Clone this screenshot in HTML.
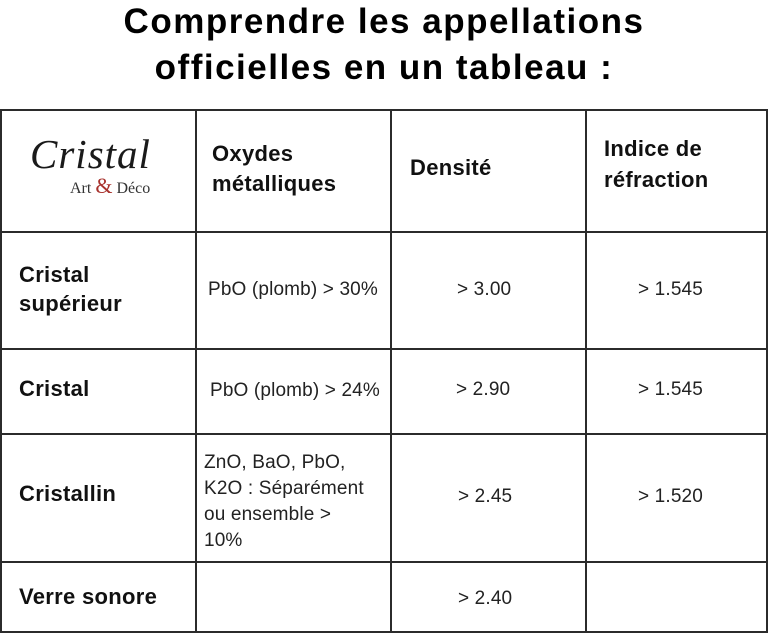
<!DOCTYPE html>
<html><head><meta charset="utf-8"><style>
html,body{margin:0;padding:0;background:#fff;}
body{width:768px;height:634px;position:relative;overflow:hidden;font-family:"Liberation Sans",sans-serif;color:#222;}
.t{position:absolute;white-space:nowrap;}
.title{left:0;width:768px;text-align:center;font-weight:bold;font-size:35px;line-height:46px;color:#000;letter-spacing:1.5px;}
.h{font-weight:bold;font-size:22px;line-height:30px;color:#111;letter-spacing:0.3px;}
.b{font-size:19px;line-height:26px;color:#222;letter-spacing:0.15px;}
.v{position:absolute;width:2px;background:#2b2b2b;top:109px;height:525px;}
.hl{position:absolute;height:2px;background:#2b2b2b;left:0;width:768px;}
</style></head><body>
<div class="t title" style="top:-1px;">Comprendre les appellations</div>
<div class="t title" style="top:45px;">officielles en un tableau :</div>

<div class="hl" style="top:109px;"></div>
<div class="hl" style="top:231px;"></div>
<div class="hl" style="top:348px;"></div>
<div class="hl" style="top:433px;"></div>
<div class="hl" style="top:561px;"></div>
<div class="hl" style="top:631px;"></div>
<div class="v" style="left:0px;height:524px;"></div>
<div class="v" style="left:195px;height:524px;"></div>
<div class="v" style="left:390px;height:524px;"></div>
<div class="v" style="left:585px;height:524px;"></div>
<div class="v" style="left:766px;height:524px;"></div>

<!-- logo -->
<div class="t" style="left:30px;top:129px;font-family:'Liberation Serif',serif;font-style:italic;font-size:41px;line-height:50px;color:#1a1a1a;letter-spacing:1px;">Cristal</div>
<div class="t" style="left:70px;top:176px;font-family:'Liberation Serif',serif;font-size:16px;line-height:20px;color:#333;">Art <span style="color:#a8322d;font-size:22px;">&amp;</span> Déco</div>

<!-- headers -->
<div class="t h" style="left:212px;top:139px;">Oxydes<br>métalliques</div>
<div class="t h" style="left:410px;top:153px;">Densité</div>
<div class="t h" style="left:604px;top:133px;line-height:31px;">Indice de<br>réfraction</div>

<!-- row 1 -->
<div class="t h" style="left:19px;top:260px;line-height:29px;">Cristal<br>supérieur</div>
<div class="t b" style="left:208px;top:277px;">PbO (plomb) &gt; 30%</div>
<div class="t b" style="left:457px;top:277px;">&gt; 3.00</div>
<div class="t b" style="left:638px;top:277px;">&gt; 1.545</div>

<!-- row 2 -->
<div class="t h" style="left:19px;top:374px;">Cristal</div>
<div class="t b" style="left:210px;top:378px;">PbO (plomb) &gt; 24%</div>
<div class="t b" style="left:456px;top:377px;">&gt; 2.90</div>
<div class="t b" style="left:638px;top:377px;">&gt; 1.545</div>

<!-- row 3 -->
<div class="t h" style="left:19px;top:479px;">Cristallin</div>
<div class="t b" style="left:204px;top:450px;">ZnO, BaO, PbO,<br>K2O : Séparément<br>ou ensemble &gt;<br>10%</div>
<div class="t b" style="left:458px;top:484px;">&gt; 2.45</div>
<div class="t b" style="left:638px;top:484px;">&gt; 1.520</div>

<!-- row 4 -->
<div class="t h" style="left:19px;top:582px;">Verre sonore</div>
<div class="t b" style="left:458px;top:586px;">&gt; 2.40</div>
</body></html>
